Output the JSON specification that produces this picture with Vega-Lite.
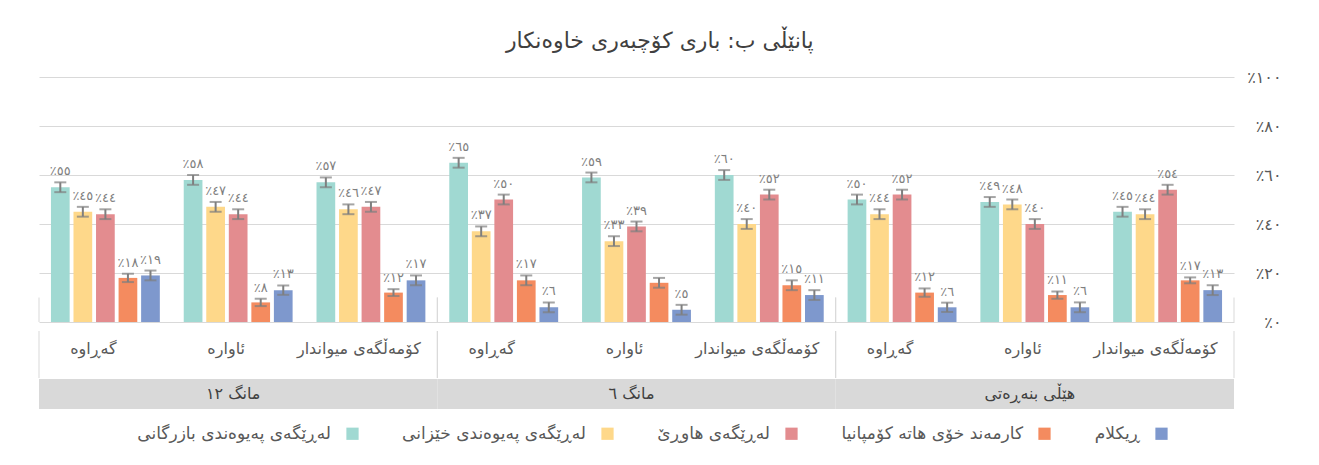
{
  "$schema": "https://vega.github.io/schema/vega-lite/v6.json",
  "padding": {"left": 38, "top": 30, "right": 5, "bottom": 5},
  "background": "white",
  "title": {"text": "پانێڵی ب: باری کۆچبەری خاوەنکار", "anchor": "middle", "fontSize": 22, "font": "DejaVu Sans", "fontWeight": "normal", "color": "#404040", "offset": 16},
  "config": {
    "font": "DejaVu Sans",
    "view": {"stroke": null},
    "locale": {"number": {"decimal": ".", "thousands": ",", "grouping": [3], "currency": ["٪", ""], "numerals": ["٠", "١", "٢", "٣", "٤", "٥", "٦", "٧", "٨", "٩"]}}
  },
  "datasets": {
    "bars": [
      {"k": 1, "s": "لەڕێگەی پەیوەندی بازرگانی", "v": 55, "lo": 53, "hi": 57},
      {"k": 1, "s": "لەڕێگەی پەیوەندی خێزانی", "v": 45, "lo": 43, "hi": 47},
      {"k": 1, "s": "لەڕێگەی هاوڕێ", "v": 44, "lo": 42, "hi": 46},
      {"k": 1, "s": "کارمەند خۆی هاتە کۆمپانیا", "v": 18, "lo": 16.3, "hi": 19.7},
      {"k": 1, "s": "ڕیکلام", "v": 19, "lo": 17, "hi": 21},
      {"k": 2, "s": "لەڕێگەی پەیوەندی بازرگانی", "v": 58, "lo": 56, "hi": 60},
      {"k": 2, "s": "لەڕێگەی پەیوەندی خێزانی", "v": 47, "lo": 45, "hi": 49},
      {"k": 2, "s": "لەڕێگەی هاوڕێ", "v": 44, "lo": 42, "hi": 46},
      {"k": 2, "s": "کارمەند خۆی هاتە کۆمپانیا", "v": 8, "lo": 6.5, "hi": 9.5},
      {"k": 2, "s": "ڕیکلام", "v": 13, "lo": 11.1, "hi": 14.9},
      {"k": 3, "s": "لەڕێگەی پەیوەندی بازرگانی", "v": 57, "lo": 55, "hi": 59},
      {"k": 3, "s": "لەڕێگەی پەیوەندی خێزانی", "v": 46, "lo": 44, "hi": 48},
      {"k": 3, "s": "لەڕێگەی هاوڕێ", "v": 47, "lo": 45, "hi": 49},
      {"k": 3, "s": "کارمەند خۆی هاتە کۆمپانیا", "v": 12, "lo": 10.6, "hi": 13.4},
      {"k": 3, "s": "ڕیکلام", "v": 17, "lo": 15, "hi": 19},
      {"k": 4, "s": "لەڕێگەی پەیوەندی بازرگانی", "v": 65, "lo": 63, "hi": 67},
      {"k": 4, "s": "لەڕێگەی پەیوەندی خێزانی", "v": 37, "lo": 35, "hi": 39},
      {"k": 4, "s": "لەڕێگەی هاوڕێ", "v": 50, "lo": 48, "hi": 52},
      {"k": 4, "s": "کارمەند خۆی هاتە کۆمپانیا", "v": 17, "lo": 15, "hi": 19},
      {"k": 4, "s": "ڕیکلام", "v": 6, "lo": 4, "hi": 8},
      {"k": 5, "s": "لەڕێگەی پەیوەندی بازرگانی", "v": 59, "lo": 57, "hi": 61},
      {"k": 5, "s": "لەڕێگەی پەیوەندی خێزانی", "v": 33, "lo": 31, "hi": 35},
      {"k": 5, "s": "لەڕێگەی هاوڕێ", "v": 39, "lo": 37, "hi": 41},
      {"k": 5, "s": "کارمەند خۆی هاتە کۆمپانیا", "v": 16, "lo": 14, "hi": 18, "lbl": false},
      {"k": 5, "s": "ڕیکلام", "v": 5, "lo": 3, "hi": 7},
      {"k": 6, "s": "لەڕێگەی پەیوەندی بازرگانی", "v": 60, "lo": 58, "hi": 62},
      {"k": 6, "s": "لەڕێگەی پەیوەندی خێزانی", "v": 40, "lo": 38, "hi": 42},
      {"k": 6, "s": "لەڕێگەی هاوڕێ", "v": 52, "lo": 50, "hi": 54},
      {"k": 6, "s": "کارمەند خۆی هاتە کۆمپانیا", "v": 15, "lo": 13, "hi": 17},
      {"k": 6, "s": "ڕیکلام", "v": 11, "lo": 9, "hi": 13},
      {"k": 7, "s": "لەڕێگەی پەیوەندی بازرگانی", "v": 50, "lo": 48, "hi": 52},
      {"k": 7, "s": "لەڕێگەی پەیوەندی خێزانی", "v": 44, "lo": 42, "hi": 46},
      {"k": 7, "s": "لەڕێگەی هاوڕێ", "v": 52, "lo": 50, "hi": 54},
      {"k": 7, "s": "کارمەند خۆی هاتە کۆمپانیا", "v": 12, "lo": 10.3, "hi": 13.7},
      {"k": 7, "s": "ڕیکلام", "v": 6, "lo": 4.1, "hi": 7.9},
      {"k": 8, "s": "لەڕێگەی پەیوەندی بازرگانی", "v": 49, "lo": 47, "hi": 51},
      {"k": 8, "s": "لەڕێگەی پەیوەندی خێزانی", "v": 48, "lo": 46, "hi": 50},
      {"k": 8, "s": "لەڕێگەی هاوڕێ", "v": 40, "lo": 38, "hi": 42},
      {"k": 8, "s": "کارمەند خۆی هاتە کۆمپانیا", "v": 11, "lo": 9.5, "hi": 12.5},
      {"k": 8, "s": "ڕیکلام", "v": 6, "lo": 4, "hi": 8},
      {"k": 9, "s": "لەڕێگەی پەیوەندی بازرگانی", "v": 45, "lo": 43, "hi": 47},
      {"k": 9, "s": "لەڕێگەی پەیوەندی خێزانی", "v": 44, "lo": 42, "hi": 46},
      {"k": 9, "s": "لەڕێگەی هاوڕێ", "v": 54, "lo": 52, "hi": 56},
      {"k": 9, "s": "کارمەند خۆی هاتە کۆمپانیا", "v": 17, "lo": 15.8, "hi": 18.2},
      {"k": 9, "s": "ڕیکلام", "v": 13, "lo": 11, "hi": 15}
    ],
    "groups": [
      {"n": 1, "g": "١٢\u200e مانگ"},
      {"n": 2, "g": "٦\u200e مانگ"},
      {"n": 3, "g": "هێڵی بنەڕەتی"}
    ],
    "subs": [
      {"k": 1, "c": "گەڕاوە"},
      {"k": 2, "c": "ئاوارە"},
      {"k": 3, "c": "کۆمەڵگەی میواندار"},
      {"k": 4, "c": "گەڕاوە"},
      {"k": 5, "c": "ئاوارە"},
      {"k": 6, "c": "کۆمەڵگەی میواندار"},
      {"k": 7, "c": "گەڕاوە"},
      {"k": 8, "c": "ئاوارە"},
      {"k": 9, "c": "کۆمەڵگەی میواندار"}
    ]
  },
  "spacing": 0,
  "resolve": {"scale": {"x": "independent", "color": "shared"}, "legend": {"color": "shared"}},
  "vconcat": [
    {
      "width": 1195,
      "height": 245,
      "layer": [
        {
          "data": {"name": "bars"},
          "encoding": {
            "x": {"field": "k", "type": "ordinal", "axis": null, "scale": {"paddingInner": 0.18, "paddingOuter": 0.09}},
            "xOffset": {"field": "s", "type": "nominal", "scale": {"domain": ["لەڕێگەی پەیوەندی بازرگانی", "لەڕێگەی پەیوەندی خێزانی", "لەڕێگەی هاوڕێ", "کارمەند خۆی هاتە کۆمپانیا", "ڕیکلام"], "paddingInner": 0.17, "paddingOuter": 0}}
          },
          "layer": [
            {
              "mark": {"type": "bar"},
              "encoding": {
                "y": {"field": "v", "type": "quantitative", "scale": {"domain": [0, 100]},
                  "axis": {"orient": "right", "values": [0, 20, 40, 60, 80, 100], "format": "$.0f", "grid": true, "gridColor": "#d9d9d9", "gridWidth": 1, "domain": false, "ticks": false, "labelAlign": "right", "labelPadding": 47, "labelFontSize": 16, "labelColor": "#595959", "title": null}},
                "color": {"field": "s", "type": "nominal",
                  "scale": {"domain": ["لەڕێگەی پەیوەندی بازرگانی", "لەڕێگەی پەیوەندی خێزانی", "لەڕێگەی هاوڕێ", "کارمەند خۆی هاتە کۆمپانیا", "ڕیکلام"], "range": ["#a0d9d2", "#fed88a", "#e38c8f", "#f48b5f", "#7e98cd"]},
                  "legend": {"orient": "none", "legendX": 305, "legendY": 348, "direction": "horizontal", "title": null, "symbolType": "square", "symbolSize": 150, "symbolStrokeWidth": 0, "labelFontSize": 17, "labelColor": "#595959", "labelLimit": 0, "columnPadding": 43, "labelAlign": "right", "labelOffset": -30}}
              }
            },
            {
              "mark": {"type": "rule", "color": "#7f7f7f", "strokeWidth": 2},
              "encoding": {"y": {"field": "lo", "type": "quantitative"}, "y2": {"field": "hi"}}
            },
            {
              "mark": {"type": "tick", "color": "#7f7f7f", "thickness": 2, "size": 12, "orient": "horizontal"},
              "encoding": {"y": {"field": "lo", "type": "quantitative"}}
            },
            {
              "mark": {"type": "tick", "color": "#7f7f7f", "thickness": 2, "size": 12, "orient": "horizontal"},
              "encoding": {"y": {"field": "hi", "type": "quantitative"}}
            },
            {
              "transform": [{"filter": "datum.lbl !== false"}],
              "mark": {"type": "text", "fontSize": 13, "color": "#7f7f7f", "baseline": "bottom", "dy": -4},
              "encoding": {"y": {"field": "hi", "type": "quantitative"}, "text": {"field": "v", "type": "quantitative", "format": "$.0f"}}
            }
          ]
        },
        {
          "data": {"name": "groups"},
          "mark": {"type": "rule", "color": "#d9d9d9", "strokeWidth": 1},
          "encoding": {
            "x": {"field": "n", "type": "ordinal", "bandPosition": 0, "axis": null, "scale": {"paddingInner": 0, "paddingOuter": 0}},
            "y": {"datum": 0},
            "y2": {"datum": 10}
          }
        },
        {
          "data": {"name": "groups"},
          "mark": {"type": "rule", "color": "#d9d9d9", "strokeWidth": 1},
          "encoding": {
            "x": {"field": "n", "type": "ordinal", "bandPosition": 1, "axis": null, "scale": {"paddingInner": 0, "paddingOuter": 0}},
            "y": {"datum": 0},
            "y2": {"datum": 10}
          }
        }
      ],
      "resolve": {"scale": {"x": "independent"}}
    },
    {
      "width": 1195,
      "height": 47,
      "layer": [
        {
          "data": {"name": "subs"},
          "mark": {"type": "text", "fontSize": 16, "color": "#595959", "dx": -12, "dy": -6},
          "encoding": {
            "x": {"field": "k", "type": "ordinal", "axis": null, "scale": {"paddingInner": 0, "paddingOuter": 0}},
            "text": {"field": "c"}
          }
        },
        {
          "data": {"name": "groups"},
          "mark": {"type": "rule", "color": "#d9d9d9", "strokeWidth": 1},
          "encoding": {"x": {"field": "n", "type": "ordinal", "bandPosition": 0, "axis": null, "scale": {"paddingInner": 0, "paddingOuter": 0}}}
        },
        {
          "data": {"name": "groups"},
          "mark": {"type": "rule", "color": "#d9d9d9", "strokeWidth": 1},
          "encoding": {"x": {"field": "n", "type": "ordinal", "bandPosition": 1, "axis": null, "scale": {"paddingInner": 0, "paddingOuter": 0}}}
        }
      ],
      "resolve": {"scale": {"x": "independent"}}
    },
    {
      "width": 1195,
      "height": 30,
      "data": {"name": "groups"},
      "encoding": {
        "x": {"field": "n", "type": "ordinal", "axis": null, "scale": {"paddingInner": 0, "paddingOuter": 0}}
      },
      "layer": [
        {"mark": {"type": "bar", "color": "#d9d9d9"}},
        {"mark": {"type": "text", "fontSize": 16, "color": "#404040", "dx": -5}, "encoding": {"text": {"field": "g"}}}
      ]
    }
  ]
}
